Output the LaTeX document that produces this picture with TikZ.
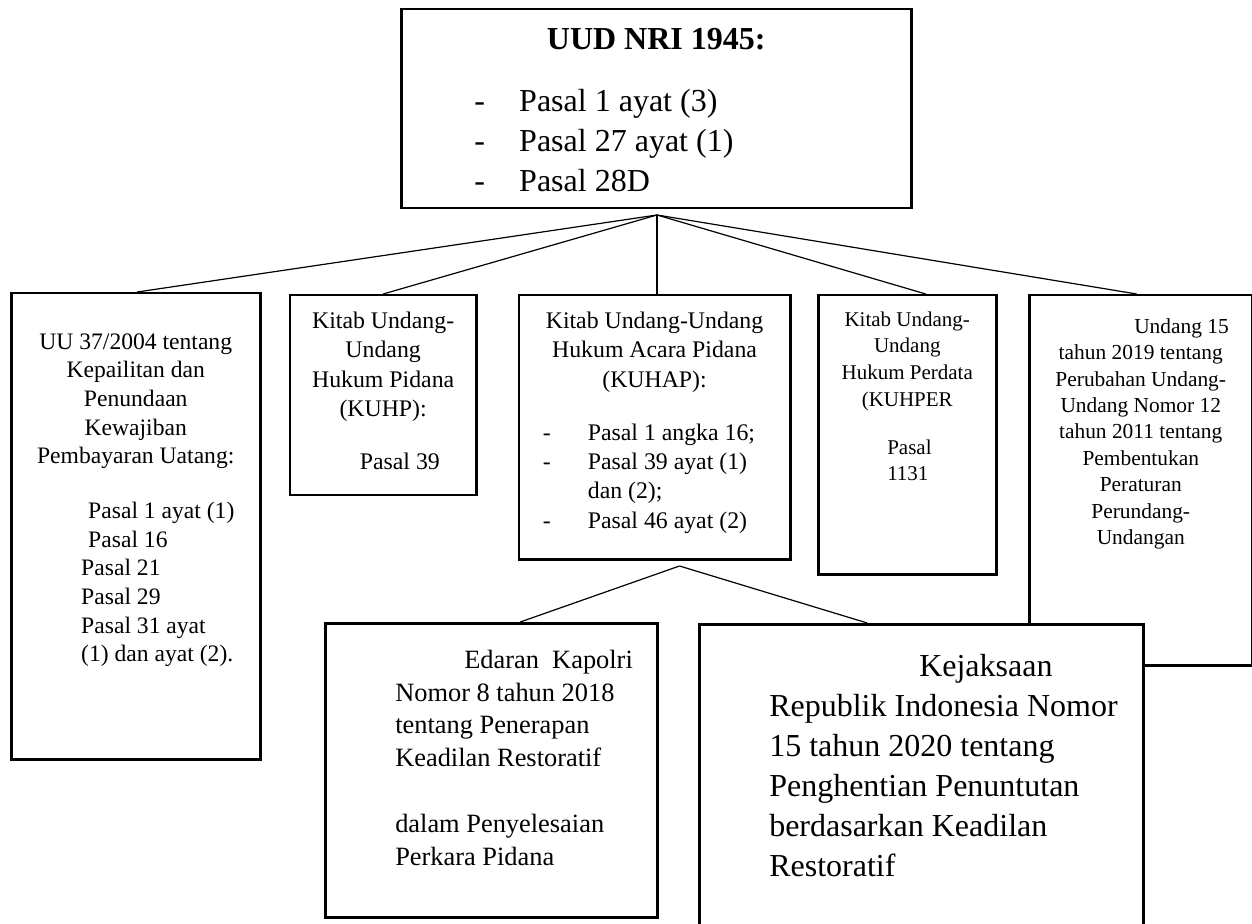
\documentclass[tikz,border=0pt]{standalone}
\usepackage{fontspec}
\setmainfont{Liberation Serif}

% fixed-size text block for a box
\newcommand{\boxtext}[3]{\parbox[c][#2][t]{#1}{#3}}
\newcommand{\fsz}[2]{\fontsize{#1}{#2}\selectfont}
\newcommand{\dashitem}[2]{\hspace*{#1}\makebox[#2][l]{-}}

\begin{document}
\begin{tikzpicture}[x=0.5pt, y=-0.5pt]

    \tikzstyle{lawbox} = [rectangle, draw=black, line width=1.25pt, fill=white, inner sep=0pt, anchor=north west]
    \tikzstyle{link} = [line width=0.6pt]

    \useasboundingbox (0,0) rectangle (1252,924);

    \node (uud) [lawbox] at (400,8) {\boxtext{255pt}{99.5pt}{\centering\fsz{16}{20}%
        \rule{0pt}{20pt}\textbf{UUD NRI 1945:}\par\vspace{11pt}\raggedright
        \dashitem{36.5pt}{22.5pt}Pasal 1 ayat (3)\\
        \dashitem{36.5pt}{22.5pt}Pasal 27 ayat (1)\\
        \dashitem{36.5pt}{22.5pt}Pasal 28D}};

    \node (uu) [lawbox] at (10,292) {\boxtext{124.5pt}{233pt}{\centering\fsz{11.8}{14.3}%
        \rule{0pt}{28pt}UU 37/2004 tentang\\ Kepailitan dan\\ Penundaan\\ Kewajiban\\ Pembayaran Uatang:\par
        \vspace{13.2pt}\raggedright
        \hspace*{38.5pt}Pasal 1 ayat (1)\\
        \hspace*{38.5pt}Pasal 16\\
        \hspace*{35pt}Pasal 21\\
        \hspace*{35pt}Pasal 29\\
        \hspace*{35pt}Pasal 31 ayat\\
        \hspace*{35pt}(1) dan ayat (2).}};

    \node (kuhp) [lawbox] at (288.6,294) {\boxtext{93.3pt}{100pt}{\centering\fsz{11.9}{14.7}%
        \rule{0pt}{16.5pt}Kitab Undang-\\ Undang\\ Hukum Pidana\\ (KUHP):\par
        \vspace{11.8pt}\raggedright
        \hspace*{35pt}Pasal 39}};

    \node (kuhap) [lawbox] at (517.6,294) {\boxtext{135.7pt}{132pt}{\centering\fsz{11.9}{14.7}%
        \rule{0pt}{16.5pt}Kitab Undang-Undang\\ Hukum Acara Pidana\\ (KUHAP):\par
        \vspace{11.8pt}\raggedright
        \dashitem{12pt}{22.5pt}Pasal 1 angka 16;\\
        \dashitem{12pt}{22.5pt}Pasal 39 ayat (1)\\
        \hspace*{34.5pt}dan (2);\\
        \dashitem{12pt}{22.5pt}Pasal 46 ayat (2)}};

    \node (kuhper) [lawbox] at (817,294) {\boxtext{89pt}{139.5pt}{\centering\fsz{10.5}{13.3}%
        \rule{0pt}{15.5pt}Kitab Undang-\\ Undang\\ Hukum Perdata\\ (KUHPER\par
        \vspace{10.7pt}\raggedright
        \hspace*{34.5pt}Pasal\\
        \hspace*{34.5pt}1131}};

    \node (uupp) [lawbox] at (1028,294) {\boxtext{111.5pt}{185pt}{\centering\fsz{10.7}{13.2}%
        \makebox[\linewidth][l]{\rule{0pt}{19pt}\hspace*{52.5pt}Undang 15}\\
        tahun 2019 tentang\\ Perubahan Undang-\\ Undang Nomor 12\\ tahun 2011 tentang\\
        Pembentukan\\ Peraturan\\ Perundang-\\ Undangan}};

    \node (edaran) [lawbox] at (324,622) {\boxtext{166pt}{147pt}{\raggedright\fsz{13.2}{16.4}%
        \rule{0pt}{22.5pt}\hspace*{69.5pt}Edaran\ \ Kapolri\\
        \hspace*{35pt}Nomor 8 tahun 2018\\
        \hspace*{35pt}tentang Penerapan\\
        \hspace*{35pt}Keadilan Restoratif\\
        \mbox{}\\
        \hspace*{35pt}dalam Penyelesaian\\
        \hspace*{35pt}Perkara Pidana}};

    \node (kejaksaan) [lawbox] at (698,623) {\boxtext{222pt}{154pt}{\raggedright\fsz{16}{20}%
        \rule{0pt}{26pt}\hspace*{110pt}Kejaksaan\\
        \hspace*{35pt}Republik Indonesia Nomor\\
        \hspace*{35pt}15 tahun 2020 tentang\\
        \hspace*{35pt}Penghentian Penuntutan\\
        \hspace*{35pt}berdasarkan Keadilan\\
        \hspace*{35pt}Restoratif}};

    % branching points
    \coordinate (fork) at (657,215);
    \coordinate (kuhapfork) at (679.5,566);

    \draw [link] (fork) -- ([xshift=0.75pt]uu.north);
    \draw [link] (fork) -- (kuhp.north);
    \draw [link] (fork) -- (fork |- kuhap.north);
    \draw [link] (fork) -- ([xshift=9.25pt]kuhper.north);
    \draw [link] (fork) -- ([xshift=-2pt]uupp.north);
    \draw [link] (kuhapfork) -- ([xshift=14.5pt]edaran.north);
    \draw [link] (kuhapfork) -- ([xshift=-27pt]kejaksaan.north);
\end{tikzpicture}
\end{document}
